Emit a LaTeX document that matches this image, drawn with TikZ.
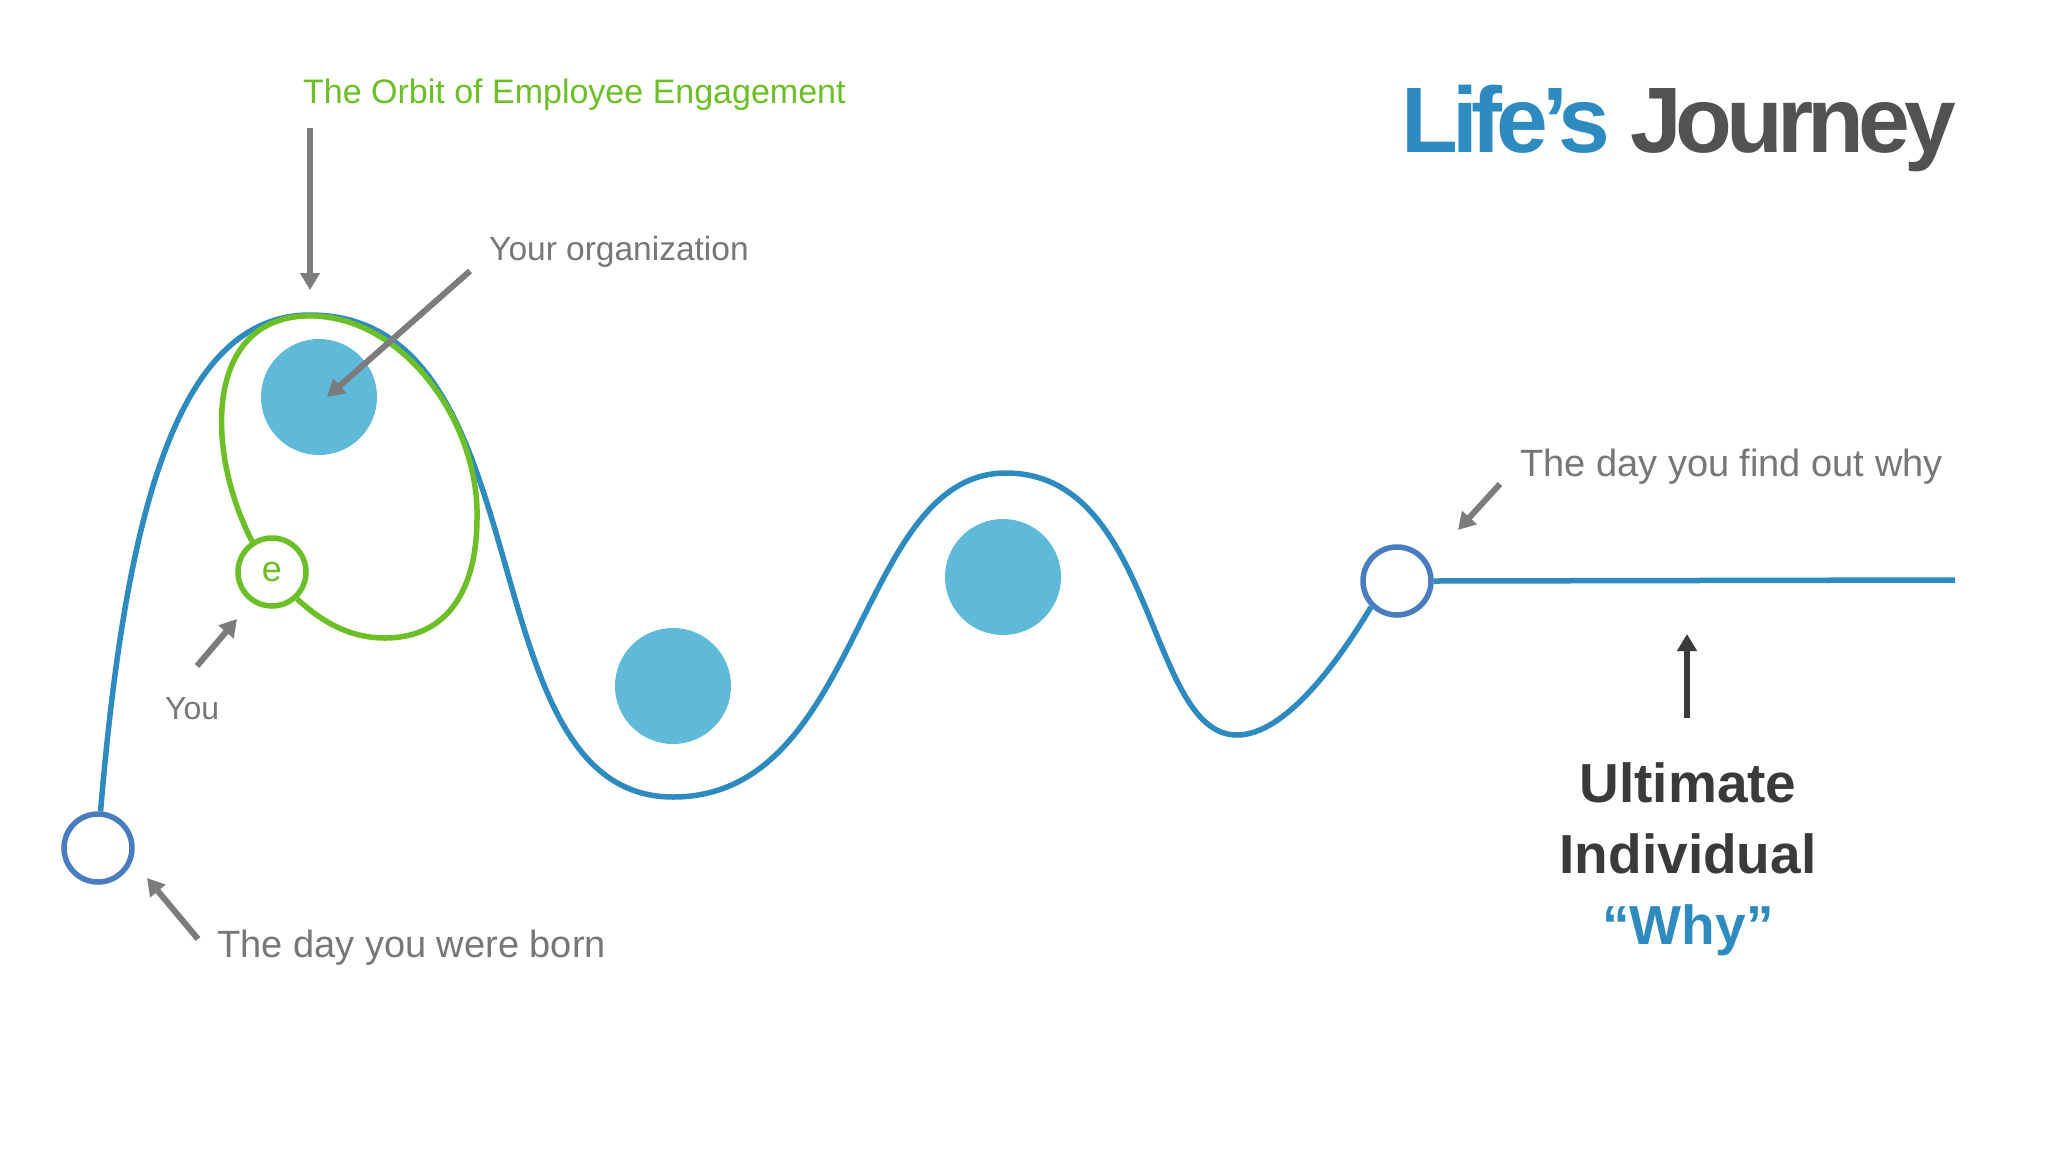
\documentclass[tikz,border=0pt]{standalone}
\usepackage{fontspec}
\setmainfont{Liberation Sans}
\usetikzlibrary{arrows.meta}
\definecolor{curveblue}{HTML}{2E8BBF}
\definecolor{ringblue}{HTML}{4A7DC0}
\definecolor{ballblue}{HTML}{5EBAD8}
\definecolor{orbitgreen}{HTML}{6CBF26}
\definecolor{labelgrey}{HTML}{777777}
\definecolor{arrowgrey}{HTML}{7C7C7C}
\definecolor{darktext}{HTML}{3A3A3A}
\definecolor{titlegrey}{HTML}{525252}
\tikzset{
  ring/.style={circle, draw=ringblue, fill=white, line width=5.5pt, minimum size=68pt, inner sep=0pt},
  ball/.style={circle, fill=ballblue, minimum size=116pt, inner sep=0pt},
  ecirc/.style={circle, draw=orbitgreen, fill=white, line width=5.5pt, minimum size=68pt, inner sep=0pt,
    text=orbitgreen, font=\fontsize{36}{40}\selectfont},
  journey/.style={draw=curveblue, line width=5.5pt},
  orbit/.style={draw=orbitgreen, line width=5.5pt},
  garrow/.style={draw=arrowgrey, line width=6pt, -{Triangle[width=19pt,length=17pt]}},
  darrow/.style={draw=darktext, line width=6pt, -{Triangle[width=19pt,length=17pt]}},
  lbl/.style={inner sep=0pt, anchor=base west, text=labelgrey},
}
\begin{document}
\begin{tikzpicture}[x=1pt,y=-1pt]
\useasboundingbox (0,0) rectangle (2048,1152);
\fill[white] (0,0) rectangle (2048,1152);

% milestone rings and organization balls
\node[ring] (born) at (98,848) {};
\node[ring] (why) at (1397,581) {};
\node[ball] (org1) at (319,397) {};
\node[ball] (org2) at (673,686) {};
\node[ball] (org3) at (1003,577) {};

% life's journey curve
\draw[journey] (born.86) .. controls (125,520) and (175,315) .. (310,315)
  .. controls (550,315) and (463,797) .. (673,797)
  .. controls (863,797) and (856,473) .. (1006,473)
  .. controls (1156,473) and (1147,735) .. (1237,735)
  .. controls (1285,735) and (1338,662) .. (why.225);
\coordinate (lineend) at (1955,580);
\draw[journey] (why.east) -- (lineend);

% orbit
\node[ecirc] (you) at (272,572) {e};
\draw[orbit] (you.123) .. controls (205,450) and (205,320) .. (305,316)
  .. controls (400,312) and (480,420) .. (477,520)
  .. controls (476,600) and (440,638) .. (385,638)
  .. controls (350,638) and (322,622) .. (you.-47);

% labels
\node[lbl, text=orbitgreen, font=\fontsize{34}{40}\selectfont] (orbitlbl) at (303,103) {The Orbit of Employee Engagement};
\node[lbl, font=\fontsize{33.5}{40}\selectfont] (orglbl) at (489,260) {Your organization};
\node[lbl, font=\fontsize{32}{40}\selectfont] (youlbl) at (165,719) {You};
\node[lbl, font=\fontsize{38}{44}\selectfont] (bornlbl) at (217,957) {The day you were born};
\node[lbl, font=\fontsize{38}{44}\selectfont] (whylbl) at (1520,476) {The day you find out why};
\node[inner sep=0pt, anchor=base west, font=\fontsize{93}{100}\selectfont\bfseries] (title) at (1401,152)
  {\addfontfeature{LetterSpace=-6.5}\textcolor{curveblue}{Life’s} \textcolor{titlegrey}{Journey}};
\node[inner sep=0pt, anchor=base, align=center, text=darktext, font=\fontsize{55}{71}\selectfont\bfseries] (ultimate) at (1688,944)
  {Ultimate\\Individual\\\textcolor{curveblue}{“Why”}};

% arrows
\coordinate (a1s) at (310,128); \coordinate (a1e) at (310,290);
\coordinate (a2s) at (470,271); \coordinate (a2e) at (327,397);
\coordinate (a3s) at (197,666); \coordinate (a3e) at (237,619);
\coordinate (a4s) at (198,939); \coordinate (a4e) at (147,878);
\coordinate (a5s) at (1500,484); \coordinate (a5e) at (1458,530);
\coordinate (a6s) at (1687,718); \coordinate (a6e) at (1687,634);
\draw[garrow] (a1s) -- (a1e);
\draw[garrow] (a2s) -- (a2e);
\draw[garrow] (a3s) -- (a3e);
\draw[garrow] (a4s) -- (a4e);
\draw[garrow] (a5s) -- (a5e);
\draw[darrow] (a6s) -- (a6e);
\end{tikzpicture}
\end{document}
